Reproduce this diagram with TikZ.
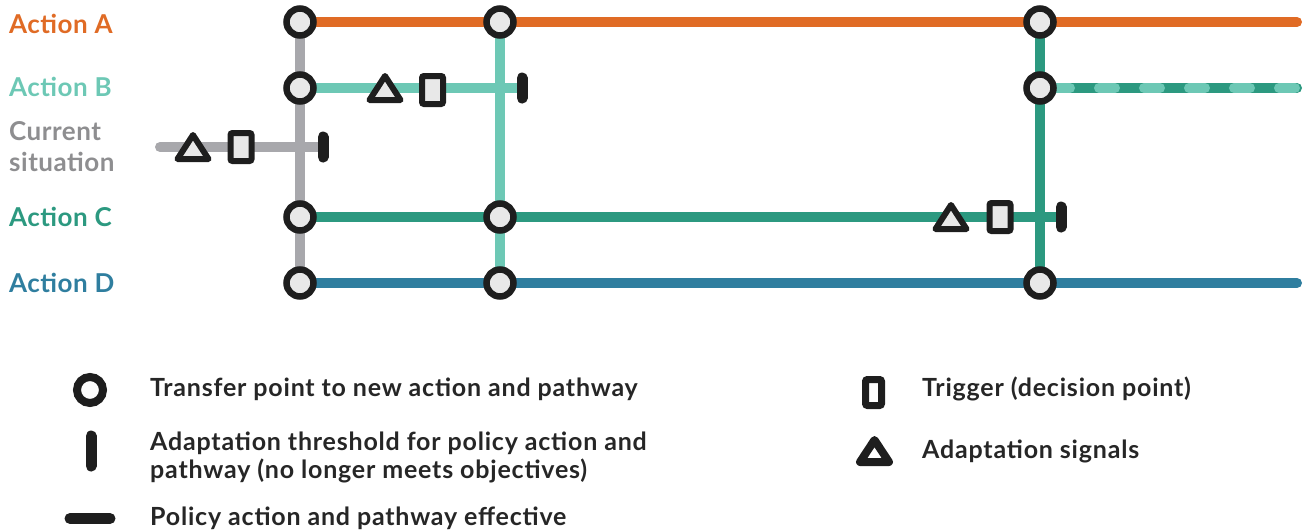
\documentclass[tikz,border=0pt]{standalone}
\usepackage{fontspec}
\setmainfont{Lato}
\newfontfamily\labelfont{Lato}[LetterSpace=2]
\newfontfamily\legendfont{Lato}[LetterSpace=3.2]
\usetikzlibrary{shapes.geometric}

\definecolor{actA}{HTML}{E06B25}
\definecolor{actB}{HTML}{6DC8B5}
\definecolor{actC}{HTML}{2C9980}
\definecolor{actD}{HTML}{2F7E9F}
\definecolor{nowline}{HTML}{A8A8AC}
\definecolor{nowtext}{HTML}{8E8E90}
\definecolor{ink}{HTML}{1E1E1E}
\definecolor{hub}{HTML}{E8E8E8}
\definecolor{legtext}{HTML}{262626}

\tikzset{
  track/.style={line width=10pt, line cap=round},
  xfer/.style={circle, draw=ink, line width=6.5pt, fill=hub,
               minimum size=27pt, inner sep=0pt},
  trigbox/.style={rectangle, draw=ink, line width=6pt, fill=hub,
                  rounded corners=2pt, minimum width=21pt,
                  minimum height=28pt, inner sep=0pt},
  rowlabel/.style={anchor=base west, inner sep=0pt,
                   font=\labelfont\bfseries\fontsize{26}{31}\selectfont},
  legendtext/.style={anchor=base west, inner sep=0pt, text=legtext,
                     align=left, font=\legendfont\bfseries\fontsize{25}{28}\selectfont},
  pics/signal/.style={code={
    \draw[ink, line width=6pt, line join=round, fill=hub]
      (0,-12) -- (15.5,12) -- (-15.5,12) -- cycle;}},
  pics/threshold/.style={code={
    \draw[ink, line width=11pt, line cap=round] (0,-10) -- (0,10);}},
}

\begin{document}
\begin{tikzpicture}[x=1pt, y=-1pt]
\useasboundingbox (0,0) rectangle (1310,531);

% stations on the metro-style map
\coordinate (a1) at (300,22);  \coordinate (a2) at (500,22);
\coordinate (a3) at (1040,22); \coordinate (aend) at (1297,22);
\coordinate (b1) at (300,88);  \coordinate (bstop) at (522,88);
\coordinate (b3) at (1040,88); \coordinate (bend) at (1297,88);
\coordinate (nstart) at (160,147); \coordinate (nstop) at (323,147);
\coordinate (c1) at (300,217); \coordinate (c2) at (500,217);
\coordinate (cstop) at (1061,217);
\coordinate (d1) at (300,283); \coordinate (d2) at (500,283);
\coordinate (d3) at (1040,283); \coordinate (dend) at (1297,283);

% row labels (base of a two-line label is its last line)
\node[rowlabel, text=actA] (labA) at (9,33) {Action A};
\node[rowlabel, text=actB] (labB) at (9,96) {Action B};
\node[rowlabel, text=nowtext, align=left] (labN) at (9,171)
  {Current\\situation};
\node[rowlabel, text=actC] (labC) at (9,226) {Action C};
\node[rowlabel, text=actD] (labD) at (9,292) {Action D};

% transfer links between pathways
\draw[track, nowline] (a1) -- (d1);
\draw[track, actB] (a2) -- (d2);
\draw[track, actC] (a3) -- (d3);

% pathways
\draw[track, nowline] (nstart) -- (nstop);
\draw[track, actA] (a1) -- (aend);
\draw[track, actB] (b1) -- (bstop);
\draw[track, actC] (c1) -- (cstop);
\draw[track, actD] (d1) -- (dend);
% combined B + C pathway
\draw[track, actC] (b3) -- (bend);
\draw[line width=10pt, line cap=round, actB,
      dash pattern=on 16pt off 29pt, dash phase=31pt] (b3) -- (bend);

% signals, triggers and thresholds
\pic at (193,147) {signal};
\pic at (385,88) {signal};
\pic at (951,217) {signal};
\node[trigbox] (tN) at (241,147) {};
\node[trigbox] (tB) at (432.5,90) {};
\node[trigbox] (tC) at (1000,217) {};
\pic at (nstop) {threshold};
\pic at (bstop) {threshold};
\pic at (cstop) {threshold};

% transfer points
\foreach \p in {a1,a2,a3,b1,b3,c1,c2,d1,d2,d3}
  \node[xfer] (x\p) at (\p) {};

% legend
\node[circle, draw=ink, line width=8pt, fill=white, minimum size=26pt,
      inner sep=0pt] (lgCirc) at (90,390) {};
\node[legendtext] (lgT1) at (150,396) {Transfer point to new action and pathway};
\draw[ink, line width=11pt, line cap=round] (91,436) -- (91,466);
\node[legendtext] (lgT2) at (150,478)
  {Adaptation threshold for policy action and\\pathway (no longer meets objectives)};
\draw[ink, line width=11pt, line cap=round] (70,518.5) -- (110,518.5);
\node[legendtext] (lgT3) at (150,525) {Policy action and pathway effective};
\node[rectangle, draw=ink, line width=7pt, fill=white, rounded corners=2pt,
      minimum width=16pt, minimum height=26pt, inner sep=0pt] (lgRect)
  at (873.5,392.5) {};
\node[legendtext] (lgT4) at (922,396) {Trigger (decision point)};
\draw[ink, line width=8pt, line join=round, fill=white]
  (874.5,440) -- (889,462) -- (860,462) -- cycle;
\node[legendtext] (lgT5) at (922,458) {Adaptation signals};
\end{tikzpicture}
\end{document}
